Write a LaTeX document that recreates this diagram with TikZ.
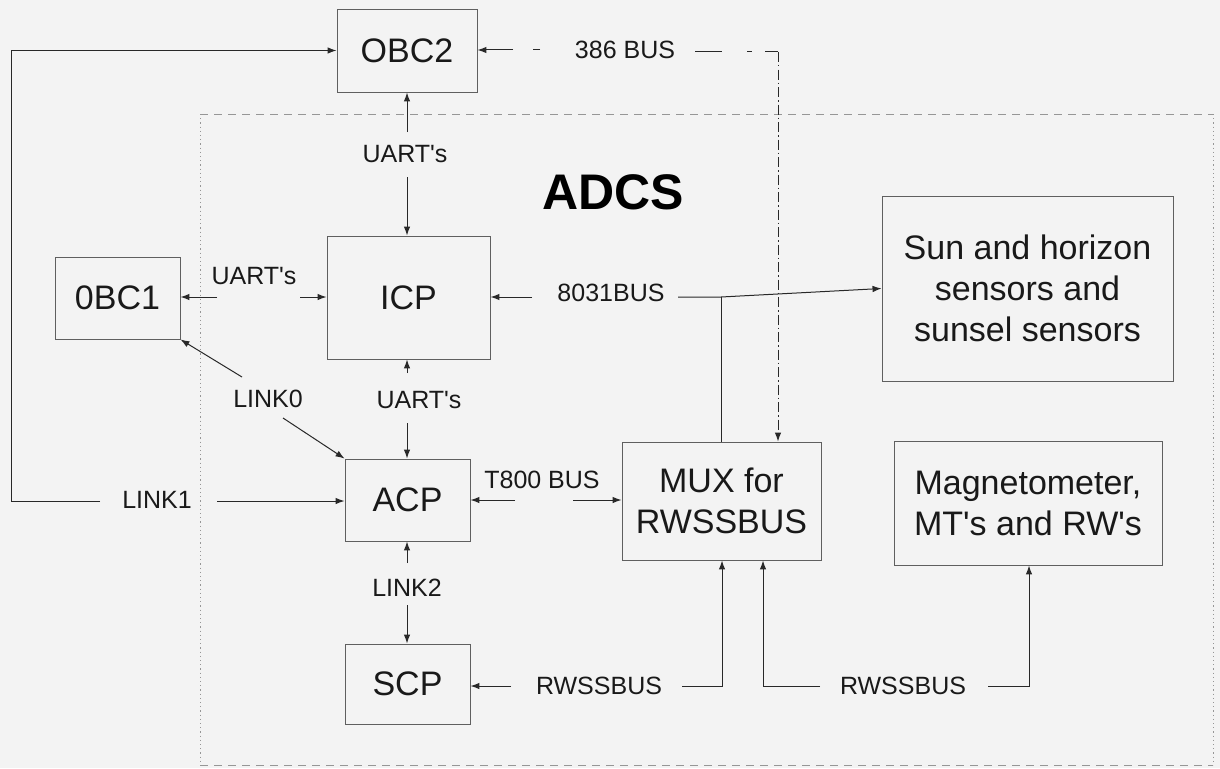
\documentclass[tikz,border=0pt]{standalone}
\usepackage{fontspec}
\setmainfont{Liberation Sans}[Ligatures=TeXOff]
\usetikzlibrary{arrows.meta}
\definecolor{bgc}{RGB}{243,243,243}
\definecolor{linec}{RGB}{40,40,40}
\definecolor{boxc}{RGB}{95,95,95}
\definecolor{framec}{RGB}{150,150,150}
\definecolor{txtc}{RGB}{25,25,25}
\begin{document}
\begin{tikzpicture}[x=1pt,y=-1pt,
  box/.style={draw=boxc, line width=0.9pt, rectangle, align=center, text=txtc,
    font=\fontsize{34}{41}\selectfont, inner sep=0pt},
  lbl/.style={text=txtc, font=\fontsize{25}{30}\selectfont, inner sep=0pt},
  ln/.style={draw=linec, line width=1pt},
  arr/.style={draw=linec, line width=1pt, -{Latex[length=9pt,width=6.5pt]}},
  framedash/.style={draw=framec, line width=1pt, dash pattern=on 8pt off 6pt},
  framedot/.style={draw=framec, line width=1pt, dash pattern=on 1.2pt off 3pt}]
\fill[bgc] (0,0) rectangle (1220,768);
\useasboundingbox (0,0) rectangle (1220,768);

% ADCS frame
\coordinate (fa) at (200,114);
\coordinate (fb) at (1213,114);
\coordinate (fc) at (1213,765);
\coordinate (fd) at (200,765);
\draw[framedash] (fa) -- (fb);
\draw[framedash] (fd) -- (fc);
\draw[framedot] (fa) -- (fd);
\draw[framedot] (fb) -- (fc);
\node[text=black, font=\fontsize{50}{60}\selectfont\bfseries, inner sep=0pt] (adcs) at (613,192) {ADCS};

% boxes
\node[box, minimum width=140pt, minimum height=83pt] (obc2) at (407,50.5) {OBC2};
\node[box, minimum width=163pt, minimum height=123pt] (icp) at (408.5,297.5) {ICP};
\node[box, minimum width=125pt, minimum height=82pt] (obc1) at (117.5,298) {0BC1};
\node[box, minimum width=125pt, minimum height=82pt] (acp) at (407.5,500) {ACP};
\node[box, minimum width=125pt, minimum height=80pt] (scp) at (407.5,684) {SCP};
\node[box, minimum width=199pt, minimum height=118pt] (mux) at (721.5,501) {MUX for\\RWSSBUS};
\node[box, minimum width=291pt, minimum height=185pt] (sun) at (1027.5,288.5) {Sun and horizon\\sensors and\\sunsel sensors};
\node[box, minimum width=268pt, minimum height=124pt] (mag) at (1028,503) {Magnetometer,\\MT's and RW's};

% labels
\node[lbl] (uart1) at (405,154) {UART's};
\node[lbl] (uart2) at (254,276) {UART's};
\node[lbl] (uart3) at (419,400) {UART's};
\node[lbl] (link0) at (268,399) {LINK0};
\node[lbl] (link1) at (157,500) {LINK1};
\node[lbl] (link2) at (407,588) {LINK2};
\node[lbl] (b8031) at (611,293) {8031BUS};
\node[lbl] (b386) at (625,50) {386 BUS};
\node[lbl] (t800) at (542,480) {T800 BUS};
\node[lbl] (rws1) at (599,686) {RWSSBUS};
\node[lbl] (rws2) at (903,686) {RWSSBUS};

% OBC2 - ICP
\coordinate (u1a) at (407,132);
\coordinate (u1b) at (407,177);
\draw[arr] (u1a) -- (u1a |- obc2.south);
\draw[arr] (u1b) -- (u1b |- icp.north);

% 0BC1 - ICP
\coordinate (u2a) at (217,297);
\coordinate (u2b) at (300,297);
\draw[arr] (u2a) -- (u2a -| obc1.east);
\draw[arr] (u2b) -- (u2b -| icp.west);

% LINK0
\coordinate (l0a) at (242,377);
\coordinate (l0b) at (283,418);
\draw[arr] (l0a) -- (obc1.south east);
\draw[arr] (l0b) -- (acp.north west);

% ICP - ACP
\coordinate (u3a) at (407,373);
\coordinate (u3b) at (407,423);
\draw[arr] (u3a) -- (u3a |- icp.south);
\draw[arr] (u3b) -- (u3b |- acp.north);

% LINK1 loop
\coordinate (l1a) at (100,501);
\coordinate (l1c) at (11,501);
\coordinate (l1b) at (217,501);
\draw[arr] (l1a) -- (l1c) |- (obc2.west);
\draw[arr] (l1b) -- (l1b -| acp.west);

% LINK2
\coordinate (l2a) at (407,563);
\coordinate (l2b) at (407,605);
\draw[arr] (l2a) -- (l2a |- acp.south);
\draw[arr] (l2b) -- (l2b |- scp.north);

% 8031BUS
\coordinate (b8a) at (532,297);
\coordinate (b8b) at (678,297);
\coordinate (b8j) at (721,297);
\draw[arr] (b8a) -- (b8a -| icp.east);
\draw[arr] (b8b) -- (b8j) -- (sun.west);
\draw[ln] (b8j) -- (b8j |- mux.north);

% 386 BUS
\coordinate (b3a) at (540,50);
\coordinate (b3b) at (695,52);
\coordinate (b3c) at (778,52);
\draw[arr, dash pattern=on 7pt off 20pt on 40pt] (b3a) -- (b3a -| obc2.east);
\draw[ln, dash pattern=on 27pt off 25pt on 5pt off 13pt on 14pt] (b3b) -- (b3c);
\draw[arr, dash pattern=on 10pt off 3pt on 1.5pt off 3pt] (b3c) -- (b3c |- mux.north);

% T800 BUS
\coordinate (t8a) at (515,500);
\coordinate (t8b) at (573,500);
\draw[arr] (t8a) -- (t8a -| acp.east);
\draw[arr] (t8b) -- (t8b -| mux.west);

% RWSSBUS 1
\coordinate (r1a) at (511,686);
\coordinate (r1b) at (682,686);
\coordinate (r1c) at (722,686);
\draw[arr] (r1a) -- (r1a -| scp.east);
\draw[arr] (r1b) -- (r1c) -- (r1c |- mux.south);

% RWSSBUS 2
\coordinate (r2a) at (820,686);
\coordinate (r2c) at (763,686);
\coordinate (r2b) at (988,686);
\coordinate (r2d) at (1029,686);
\draw[arr] (r2a) -- (r2c) -- (r2c |- mux.south);
\draw[arr] (r2b) -- (r2d) -- (r2d |- mag.south);
\end{tikzpicture}
\end{document}
